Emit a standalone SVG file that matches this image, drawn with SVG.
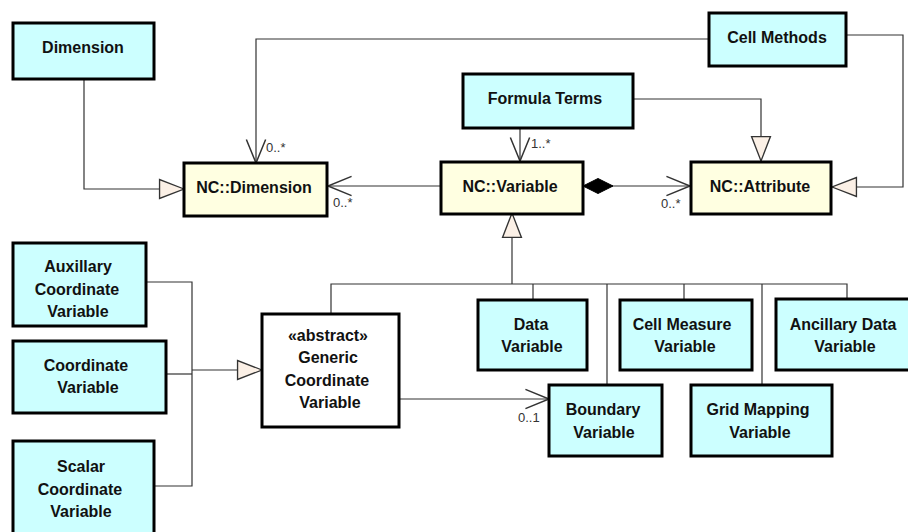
<svg xmlns="http://www.w3.org/2000/svg" width="908" height="532" viewBox="0 0 908 532">
<style>
.box{stroke:#000;stroke-width:3}
.cls{fill:#CCFFFF}
.nc{fill:#FFFFE1}
.abs{fill:#FFFFFF}
.t{font-family:"Liberation Sans",Arial,sans-serif;font-weight:bold;font-size:16px;fill:#111;text-anchor:middle}
.c{fill:none;stroke:#333;stroke-width:1.2}
.m{font-family:"Liberation Sans",Arial,sans-serif;font-size:13px;fill:#333}
</style>
<defs>
<marker id="open" markerUnits="userSpaceOnUse" markerWidth="30" markerHeight="30" viewBox="-25 -12 28 24" refX="0" refY="0" orient="auto">
<path d="M-22,-9 L0,0 L-22,9" fill="none" stroke="#333" stroke-width="1.4"/>
</marker>
<marker id="gen" markerUnits="userSpaceOnUse" markerWidth="30" markerHeight="30" viewBox="-24 -12 27 24" refX="0" refY="0" orient="auto">
<polygon points="0,0 -22,-8.5 -22,8.5" fill="#FBF0E6" stroke="#333" stroke-width="1.2"/>
</marker>
<marker id="diam" markerUnits="userSpaceOnUse" markerWidth="36" markerHeight="20" viewBox="-2 -10 34 20" refX="0" refY="0" orient="auto">
<polygon points="0,0 15,-7.5 30,0 15,7.5" fill="#000" stroke="#000" stroke-width="1"/>
</marker>
</defs>

<g id="connectors">
<path class="c" d="M84,79 V189 H184" marker-end="url(#gen)"/>
<path class="c" d="M709,39 H256 V163" marker-end="url(#open)"/>
<text class="m" x="266" y="152">0..*</text>
<path class="c" d="M441,186 H328" marker-end="url(#open)"/>
<text class="m" x="333" y="207">0..*</text>
<path class="c" d="M520,128 V161" marker-end="url(#open)"/>
<text class="m" x="531" y="148">1..*</text>
<path class="c" d="M633,99 H761 V161" marker-end="url(#gen)"/>
<path class="c" d="M846,35 H903 V187 H832" marker-end="url(#gen)"/>
<path class="c" d="M583,186 H690" marker-start="url(#diam)" marker-end="url(#open)"/>
<text class="m" x="661" y="208">0..*</text>
<path class="c" d="M512,284 V213" marker-end="url(#gen)"/>
<path class="c" d="M331,314 V284 H847 V299"/>
<path class="c" d="M533,284 V300"/>
<path class="c" d="M607,284 V385"/>
<path class="c" d="M684,284 V300"/>
<path class="c" d="M762,284 V385"/>
<path class="c" d="M146,282 H192 V486 H154"/>
<path class="c" d="M166,374 H192"/>
<path class="c" d="M192,370 H262" marker-end="url(#gen)"/>
<path class="c" d="M399,399 H549" marker-end="url(#open)"/>
<text class="m" x="518" y="422">0..1</text>
</g>

<g id="dimension"><rect class="box cls" x="13" y="23" width="141" height="56"/><text class="t" x="83" y="53">Dimension</text></g>
<g id="cell-methods"><rect class="box cls" x="709" y="13" width="137" height="53"/><text class="t" x="777" y="43">Cell Methods</text></g>
<g id="formula-terms"><rect class="box cls" x="463" y="74" width="170" height="54"/><text class="t" x="545" y="104">Formula Terms</text></g>
<g id="nc-dimension"><rect class="box nc" x="184" y="163" width="143" height="53"/><text class="t" x="254" y="193">NC::Dimension</text></g>
<g id="nc-variable"><rect class="box nc" x="441" y="162" width="142" height="52"/><text class="t" x="510" y="192">NC::Variable</text></g>
<g id="nc-attribute"><rect class="box nc" x="691" y="162" width="140" height="52"/><text class="t" x="760" y="192">NC::Attribute</text></g>
<g id="aux-coord"><rect class="box cls" x="13" y="243" width="133" height="83"/><text class="t" x="78" y="272">Auxillary</text><text class="t" x="77" y="295">Coordinate</text><text class="t" x="78" y="317">Variable</text></g>
<g id="coord-var"><rect class="box cls" x="13" y="341" width="153" height="72"/><text class="t" x="86" y="371">Coordinate</text><text class="t" x="88" y="393">Variable</text></g>
<g id="scalar-coord"><rect class="box cls" x="13" y="441" width="141" height="100"/><text class="t" x="81" y="472">Scalar</text><text class="t" x="80" y="495">Coordinate</text><text class="t" x="81" y="517">Variable</text></g>
<g id="generic-coord"><rect class="box abs" x="262" y="314" width="137" height="113"/><text class="t" x="328" y="341">«abstract»</text><text class="t" x="328" y="363">Generic</text><text class="t" x="327" y="386">Coordinate</text><text class="t" x="330" y="408">Variable</text></g>
<g id="data-var"><rect class="box cls" x="478" y="300" width="109" height="70"/><text class="t" x="531" y="330">Data</text><text class="t" x="532" y="352">Variable</text></g>
<g id="cell-measure"><rect class="box cls" x="620" y="300" width="132" height="70"/><text class="t" x="682" y="330">Cell Measure</text><text class="t" x="685" y="352">Variable</text></g>
<g id="ancillary"><rect class="box cls" x="776" y="299" width="136" height="71"/><text class="t" x="843" y="330">Ancillary Data</text><text class="t" x="845" y="352">Variable</text></g>
<g id="boundary"><rect class="box cls" x="549" y="385" width="113" height="71"/><text class="t" x="603" y="415">Boundary</text><text class="t" x="604" y="438">Variable</text></g>
<g id="grid-mapping"><rect class="box cls" x="691" y="385" width="141" height="71"/><text class="t" x="758" y="415">Grid Mapping</text><text class="t" x="760" y="438">Variable</text></g>
</svg>
